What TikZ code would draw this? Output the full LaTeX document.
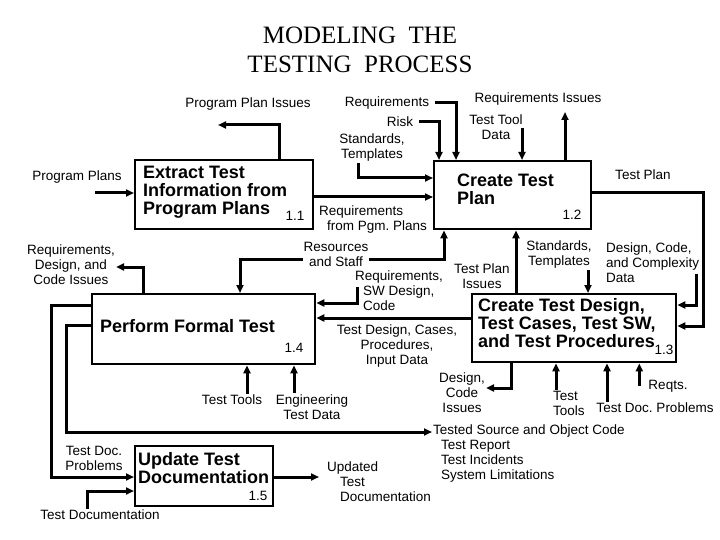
\documentclass[tikz,border=0pt]{standalone}
\usepackage{fontspec}
\setmainfont{Liberation Sans}
\newfontfamily\headfont{Liberation Serif}
\usetikzlibrary{arrows.meta,calc,positioning}
\frenchspacing

\begin{document}
\begin{tikzpicture}[
  x=1pt, y=-1pt,
  font=\fontsize{13.5}{15}\selectfont,
  >={Triangle[length=8pt,width=7pt]},
  block/.style={draw, line width=2.4pt, anchor=north west, inner sep=0pt},
  boxtext/.style={font=\fontsize{18}{18}\selectfont\bfseries, align=left,
    anchor=west, inner sep=0pt},
  num/.style={inner sep=0pt},
  lbl/.style={inner sep=1pt, align=center},
  arrow/.style={->, line width=3pt}
]
\useasboundingbox (0,0) rectangle (720,540);

% title
\node[font=\headfont\fontsize{25}{29}\selectfont, align=center] (title) at (360,50)
  {MODELING\ \ THE\\TESTING\ \ PROCESS};

% activity boxes
\node[block, minimum width=178, minimum height=69] (extract) at (134,159) {};
\node[block, minimum width=157, minimum height=68] (plan) at (433,160) {};
\node[block, minimum width=204, minimum height=68] (design) at (471,293) {};
\node[block, minimum width=223, minimum height=70] (perform) at (91,293) {};
\node[block, minimum width=138, minimum height=60] (update) at (134,445) {};

\node[boxtext] (extract-t) at (143,192) {Extract Test\\Information from\\Program Plans};
\node[boxtext] (plan-t) at (457,189) {Create Test\\Plan};
\node[boxtext] (design-t) at (478,323) {Create Test Design,\\Test Cases, Test SW,\\and Test Procedures};
\node[boxtext] (perform-t) at (100,326) {Perform Formal Test};
\node[boxtext] (update-t) at (138,468) {Update Test\\Documentation};

\node[num] (extract-n) at (295,216) {1.1};
\node[num] (plan-n) at (572,215) {1.2};
\node[num] (design-n) at (664,350) {1.3};
\node[num] (perform-n) at (294,348) {1.4};
\node[num] (update-n) at (258,496) {1.5};

% flow labels
\node[lbl] (ppl) at (77,177) {Program Plans};
\node[lbl] (ppi) at (248,104) {Program Plan Issues};
\node[lbl] (req) at (387,103) {Requirements};
\node[lbl] (risk) at (400,122) {Risk};
\node[lbl] (std1) at (372,148) {Standards,\\Templates};
\node[lbl] (ttd) at (496,127) {Test Tool\\Data};
\node[lbl] (reqi) at (538,99) {Requirements Issues};
\node[lbl, align=left, anchor=west] (rpp) at (318,220) {Requirements\\\hspace*{8pt}from Pgm. Plans};
\node[lbl] (tp) at (643,175) {Test Plan};
\node[lbl, align=left, anchor=west] (dcc) at (605,263) {Design, Code,\\and Complexity\\Data};
\node[lbl] (std2) at (559,255) {Standards,\\Templates};
\node[lbl] (tpi) at (482,276) {Test Plan\\Issues};
\node[lbl] (res) at (336,254) {Resources\\and Staff};
\node[lbl, align=left, anchor=north west] (rsc) at (354,270) {Requirements,\\\hspace*{8pt}SW Design,\\\hspace*{8pt}Code};
\node[lbl] (tdc) at (397,346) {Test Design, Cases,\\Procedures,\\Input Data};
\node[lbl] (rdc) at (71,265) {Requirements,\\Design, and\\Code Issues};
\node[lbl] (tt1) at (232,400) {Test Tools};
\node[lbl] (etd) at (312,407) {Engineering\\Test Data};
\node[lbl] (dci) at (462,393) {Design,\\Code\\Issues};
\node[lbl, align=left, anchor=west] (tt2) at (552,403) {Test\\Tools};
\node[lbl] (tdp) at (655,408) {Test Doc. Problems};
\node[lbl] (rq) at (668,386) {Reqts.};
\node[lbl] (tdp2) at (94,458) {Test Doc.\\Problems};
\node[lbl, align=left, anchor=north west] (tsc) at (432,424)
  {Tested Source and Object Code\\\hspace*{8pt}Test Report\\\hspace*{8pt}Test Incidents\\\hspace*{8pt}System Limitations};
\node[lbl] (tdoc) at (100,515) {Test Documentation};
\node[lbl, align=left, anchor=north west] (utd) at (326,461)
  {Updated\\\hspace*{13pt}Test\\\hspace*{13pt}Documentation};

% free ends
\coordinate (pp-in) at (95,193);
\coordinate (ppi-out) at (218,125);
\coordinate (ttd-in) at (522,128);
\coordinate (reqi-out) at (565,112);
\coordinate (dcc-in) at (696,274);
\coordinate (rsc-in) at (357,287);
\coordinate (rq-in) at ([xshift=-8]rq.west);
\coordinate (utd-in) at (319,477);

% connectors
\draw[arrow] (pp-in) -- (extract.west |- pp-in);
\draw[arrow] (279,0 |- extract.north) |- (ppi-out);
\draw[arrow] ([xshift=5]req.east) -| (456,0 |- plan.north);
\draw[arrow] ([xshift=5]risk.east) -| (439,0 |- plan.north);
\draw[arrow] (358,0 |- std1.south) |- (plan.west |- 0,178);
\draw[arrow] (ttd-in) -- (ttd-in |- plan.north);
\draw[arrow] (565,0 |- plan.north) -- (reqi-out);
\draw[arrow] (extract.east |- 0,197) -- (plan.west |- 0,197);
\draw[arrow] (plan.east |- 0,193) -| (703,326) -- (design.east |- 0,326);
\draw[arrow] (dcc-in) |- (design.east |- 0,305);
\draw[arrow] (588,0 |- std2.south) -- (588,0 |- design.north);
\draw[arrow] (516,0 |- design.north) -- (516,0 |- plan.south);
\draw[arrow] (res.east |- 0,259) -| (444,0 |- plan.south);
\draw[arrow] (res.west |- 0,259) -| (240,0 |- perform.north);
\draw[arrow] (rsc-in) |- (perform.east |- 0,303);
\draw[arrow] (design.west |- 0,318) -- (perform.east |- 0,318);
\draw[arrow] (143,0 |- perform.north) |- (rdc.east |- 0,267);
\draw[arrow] (247,0 |- tt1.north) -- (247,0 |- perform.south);
\draw[arrow] (294,0 |- etd.north) -- (294,0 |- perform.south);
\draw[arrow] (511,0 |- design.south) |- (dci.east |- 0,388);
\draw[arrow] (556,0 |- tt2.north) -- (556,0 |- design.south);
\draw[arrow] (607,0 |- tdp.north) -- (607,0 |- design.south);
\draw[arrow] (rq-in) -- (rq-in |- design.south);
\draw[arrow] (perform.west |- 0,305) -| (51,477) -- (update.west |- 0,477);
\draw[arrow] (perform.west |- 0,325) -| (66,432) -- (tsc.west |- 0,432);
\draw[arrow] (87,0 |- tdoc.north) |- (update.west |- 0,491);
\draw[arrow] (update.east |- 0,477) -- (utd-in);
\end{tikzpicture}
\end{document}
